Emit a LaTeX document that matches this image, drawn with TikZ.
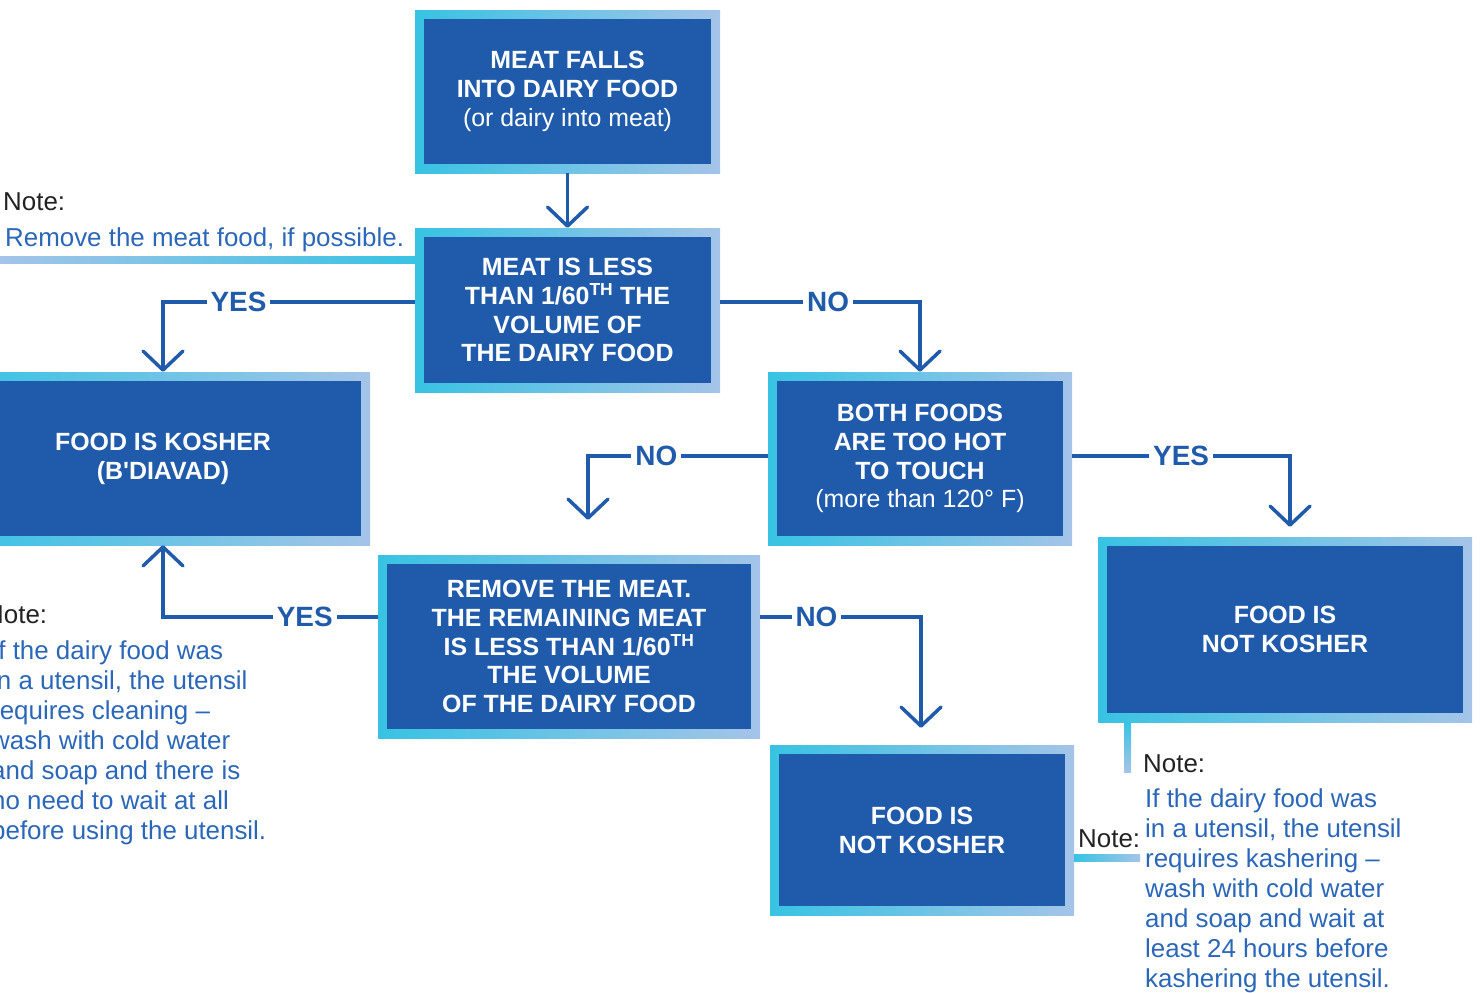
\documentclass[tikz,border=0pt]{standalone}
\usepackage{fontspec}
\setmainfont{Liberation Sans}
\usetikzlibrary{arrows.meta}
\definecolor{deepB}{HTML}{1F5BAA}
\definecolor{cyanB}{HTML}{38C3E3}
\definecolor{liteB}{HTML}{A4C4E8}
\definecolor{noteB}{HTML}{2B67B8}
\definecolor{noteK}{HTML}{222222}
\newcommand{\boxfont}{\fontsize{25}{29}\bfseries\selectfont}
\newcommand{\notefont}{\fontsize{26}{30}\selectfont}
\newcommand{\lblfont}{\fontsize{28}{30}\bfseries\selectfont}
\begin{document}
\begin{tikzpicture}[x=1bp,y=-1bp,
  box/.style={rectangle, inner sep=0pt, align=center, text=white, font=\boxfont,
    left color=cyanB, right color=liteB,
    path picture={\fill[deepB] ([shift={(9bp,9bp)}]path picture bounding box.south west)
      rectangle ([shift={(-9bp,-9bp)}]path picture bounding box.north east);}},
  arr/.style={draw=deepB, line width=3.5bp, -{Straight Barb[length=19bp,width=40bp,round]}},
  lbl/.style={fill=white, text=deepB, font=\lblfont, inner sep=4bp},
  notehead/.style={anchor=base west, inner sep=0pt, text=noteK, font=\notefont},
  notebody/.style={anchor=base west, inner sep=0pt, text=noteB, font=\notefont, align=left}]
\useasboundingbox (0,0) rectangle (1480,992);
\clip (0,0) rectangle (1480,992);

\node[box, minimum width=305bp, minimum height=163bp] (fall) at (567.5,91.5)
  {MEAT FALLS\\INTO DAIRY FOOD\\{\mdseries (or dairy into meat)}};
\node[box, minimum width=305bp, minimum height=164bp] (less) at (567.5,310)
  {MEAT IS LESS\\THAN 1/60\textsuperscript{TH} THE\\VOLUME OF\\THE DAIRY FOOD};
\node[box, minimum width=414bp, minimum height=173bp] (kosher) at (163,458.5)
  {FOOD IS KOSHER\\(B\textquotesingle DIAVAD)};
\node[box, minimum width=304bp, minimum height=173bp] (hot) at (920,458.5)
  {BOTH FOODS\\ARE TOO HOT\\TO TOUCH\\{\mdseries (more than 120° F)}};
\node[box, minimum width=382bp, minimum height=183bp] (remove) at (569,646.5)
  {REMOVE THE MEAT.\\THE REMAINING MEAT\\IS LESS THAN 1/60\textsuperscript{TH}\\THE VOLUME\\OF THE DAIRY FOOD};
\node[box, minimum width=374bp, minimum height=185bp] (notk6) at (1285,629.5)
  {FOOD IS\\NOT KOSHER};
\node[box, minimum width=304bp, minimum height=170bp] (notk7) at (922,830)
  {FOOD IS\\NOT KOSHER};

\draw[arr] (fall.south) -- (less.north);
\draw[arr] ([yshift=8bp]less.west) -| node[lbl, pos=0.35] {YES} (kosher.north);
\draw[arr] ([yshift=8bp]less.east) -| node[lbl, pos=0.27] {NO} (hot.north);
\draw[arr, shorten >=35bp] ([yshift=2.5bp]hot.west) -| node[lbl, pos=0.31] {NO} ([xshift=19bp]remove.north);
\draw[arr, shorten >=10bp] ([yshift=2.5bp]hot.east) -| node[lbl, pos=0.25] {YES} ([xshift=5bp]notk6.north);
\draw[arr] ([yshift=29.5bp]remove.west) -| node[lbl, pos=0.17] {YES} (kosher.south);
\draw[arr, shorten >=17bp] ([yshift=29.5bp]remove.east) -| node[lbl, pos=0.175] {NO} ([xshift=-1bp]notk7.north);

\shade[left color=liteB, right color=cyanB] (0,256) rectangle (less.west |- 0,263);
\shade[top color=cyanB, bottom color=liteB] (notk6.south -| 1124,0) rectangle (1131,772);
\shade[left color=cyanB, right color=liteB] (notk7.east |- 0,854) rectangle (1140,861);

\node[notehead] (n1h) at (3,210) {Note:};
\node[notebody] (n1b) at (5,246) {Remove the meat food, if possible.};
\node[notehead] (n2h) at (-15,623) {Note:};
\node[notebody] (n2b) at (-9,839) {If the dairy food was\\in a utensil, the utensil\\requires cleaning –\\wash with cold water\\and soap and there is\\no need to wait at all\\before using the utensil.};
\node[notehead] (n3h) at (1143,772) {Note:};
\node[notebody] (n3b) at (1145,987) {If the dairy food was\\in a utensil, the utensil\\requires kashering –\\wash with cold water\\and soap and wait at\\least 24 hours before\\kashering the utensil.};
\node[notehead] (n4h) at (1078,847) {Note:};
\end{tikzpicture}
\end{document}
